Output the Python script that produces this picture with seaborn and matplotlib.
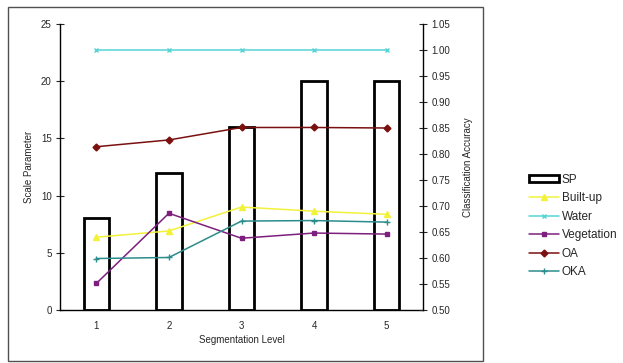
import numpy as np
import pandas as pd
import matplotlib
matplotlib.use('Agg')
import matplotlib.pyplot as plt
import seaborn as sns
from matplotlib.patches import Rectangle
from matplotlib.ticker import FixedLocator, FormatStrFormatter

# ─────────────────────────────────────────────────────────────
# 데이터
# ─────────────────────────────────────────────────────────────
levels = ['1', '2', '3', '4', '5']
scale_param = [8, 12, 16, 20, 20]

built_up = [0.640, 0.652, 0.698, 0.690, 0.684]
water = [1.00, 1.00, 1.00, 1.00, 1.00]
vegetation = [0.551, 0.686, 0.638, 0.648, 0.646]
oa = [0.814, 0.827, 0.851, 0.851, 0.850]
oka = [0.599, 0.601, 0.671, 0.672, 0.669]

series = [
    ('Built-up', built_up, '#f2f23a', '^', 5),
    ('Water', water, '#55d4d4', 'x', 3.5),
    ('Vegetation', vegetation, '#7d1f7d', 's', 2.5),
    ('OA', oa, '#7a1010', 'D', 3.5),
    ('OKA', oka, '#2b8c8c', '+', 4),
]

sns.set_style('white')
plt.rcParams['font.family'] = ['Liberation Sans', 'DejaVu Sans']

fig = plt.figure(figsize=(6.23, 3.63), dpi=100)
ax = fig.add_axes([60 / 623, 1 - 310 / 363, 363 / 623, 286 / 363])

# 막대 (SP)
sp_df = pd.DataFrame({'level': levels, 'sp': scale_param})
sns.barplot(data=sp_df, x='level', y='sp', fill=False, edgecolor='black',
            linewidth=2, width=0.35, ax=ax, label='SP')
if ax.get_legend() is not None:
    ax.get_legend().remove()
ax.set_ylim(0, 25)
ax.set_xlim(-0.5, 4.5)
ax.set_yticks(range(0, 26, 5))
ax.xaxis.set_major_locator(FixedLocator(np.arange(-0.5, 5, 1)))
ax.xaxis.set_minor_locator(FixedLocator(np.arange(5)))
ax.set_xticklabels([], minor=False)
ax.set_xticklabels(levels, minor=True)
ax.tick_params(axis='x', which='major', direction='inout', length=5, width=0.8)
ax.tick_params(axis='x', which='minor', length=0, pad=8, labelsize=7)
ax.tick_params(axis='y', direction='inout', length=6, width=0.8, labelsize=7, pad=3)
ax.set_xlabel('Segmentation Level', fontsize=7, labelpad=3)
ax.set_ylabel('Scale Parameter', fontsize=7, labelpad=5)
for s in ['top', 'right']:
    ax.spines[s].set_visible(False)
for s in ['left', 'bottom']:
    ax.spines[s].set_color('black')
    ax.spines[s].set_linewidth(1)

# 선 (정확도)
ax2 = ax.twinx()
pos = np.arange(len(levels))
for name, vals, color, marker, ms in series:
    sns.lineplot(x=pos, y=vals, color=color, marker=marker, markersize=ms,
                 markeredgecolor=color, markeredgewidth=1, linewidth=1.1,
                 label=name, ax=ax2, legend=False)
ax2.set_ylim(0.50, 1.05)
ax2.set_xlim(-0.5, 4.5)
ax2.set_yticks(np.arange(0.50, 1.051, 0.05))
ax2.yaxis.set_major_formatter(FormatStrFormatter('%.2f'))
ax2.tick_params(axis='y', direction='inout', length=6, width=0.8, labelsize=7, pad=3)
ax2.set_ylabel('Classification Accuracy', fontsize=7, labelpad=9)
for s in ['top', 'left', 'bottom']:
    ax2.spines[s].set_visible(False)
ax2.spines['right'].set_color('black')
ax2.spines['right'].set_linewidth(1)

# 범례
h1, l1 = ax.get_legend_handles_labels()
h2, l2 = ax2.get_legend_handles_labels()
fig.legend(h1 + h2, l1 + l2, loc='upper left',
           bbox_to_anchor=(518 / 623, 1 - 163 / 363), frameon=False,
           fontsize=8.5, handlelength=2.6, handleheight=0.45,
           handletextpad=0.2, labelspacing=0.55)

# 차트 영역 테두리
fig.add_artist(Rectangle((8 / 623, 1 - 361 / 363), 475 / 623, 354 / 363,
                         fill=False, edgecolor='#505050', linewidth=1,
                         transform=fig.transFigure))

fig.savefig('out.png', dpi=100)
